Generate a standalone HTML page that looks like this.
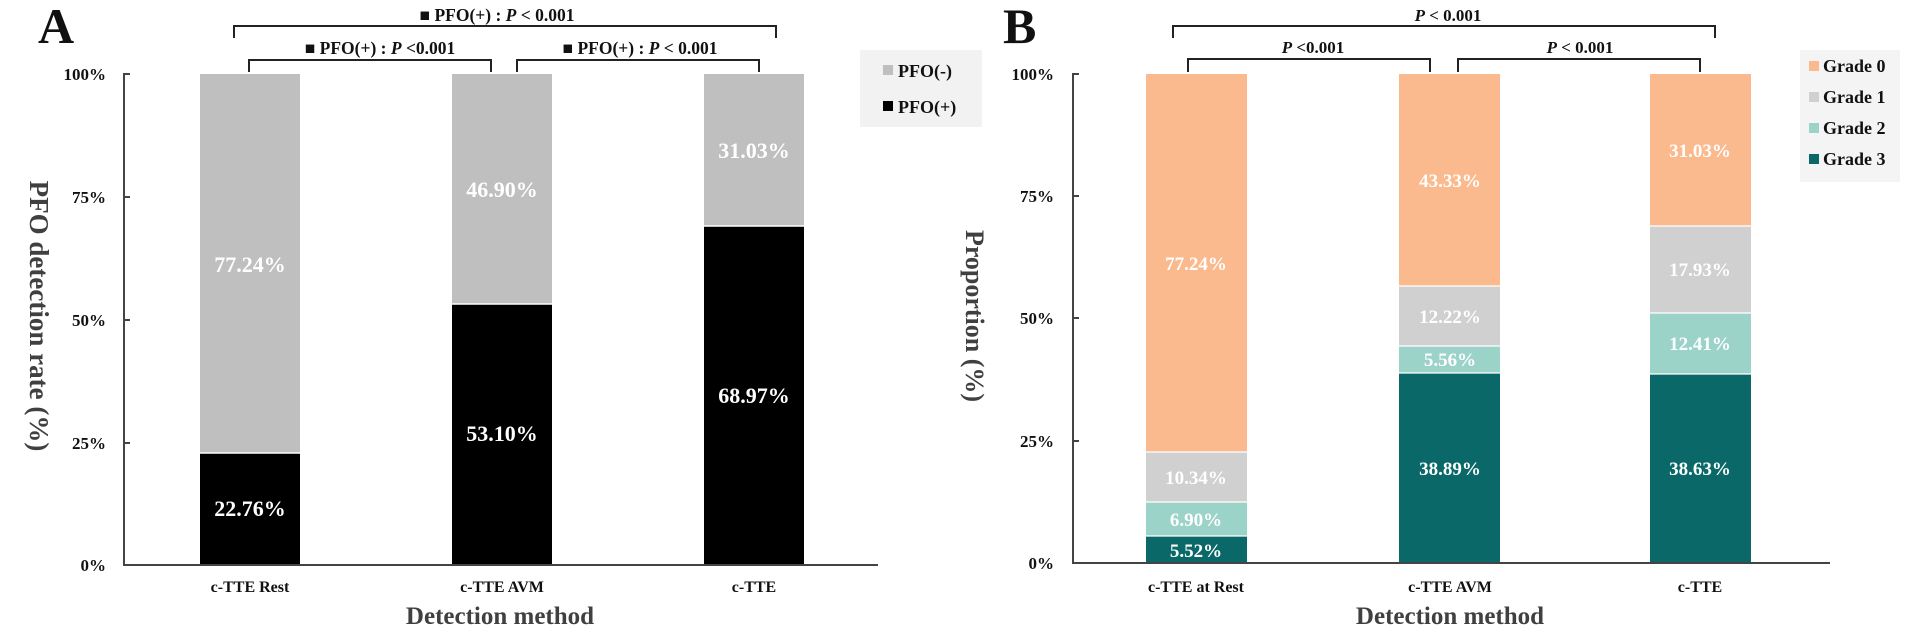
<!DOCTYPE html>
<html><head><meta charset="utf-8"><style>
html,body{margin:0;padding:0;background:#fff;}
svg{display:block;font-family:"Liberation Serif",serif;font-weight:bold;}
</style></head><body>
<svg width="1905" height="634" viewBox="0 0 1905 634" xmlns="http://www.w3.org/2000/svg">
<!-- Panel A -->
<text x="38" y="43" font-size="50" fill="#111">A</text>
<g stroke="#222" stroke-width="2" fill="none">
<path d="M234 38 V26 H776 V38"/>
<path d="M249 72 V60 H491 V72"/>
<path d="M517 72 V60 H759 V72"/>
</g>
<g font-size="17.5" fill="#111" text-anchor="middle">
<text x="497" y="21">■ PFO(+) : <tspan font-style="italic">P</tspan> &lt; 0.001</text>
<text x="380" y="54">■ PFO(+) : <tspan font-style="italic">P</tspan> &lt;0.001</text>
<text x="640" y="54">■ PFO(+) : <tspan font-style="italic">P</tspan> &lt; 0.001</text>
</g>
<rect x="200" y="74" width="100" height="379" fill="#bfbfbf"/>
<rect x="200" y="453" width="100" height="112" fill="#000"/>
<rect x="452" y="74" width="100" height="230" fill="#bfbfbf"/>
<rect x="452" y="304" width="100" height="261" fill="#000"/>
<rect x="704" y="74" width="100" height="152" fill="#bfbfbf"/>
<rect x="704" y="226" width="100" height="339" fill="#000"/>
<g stroke="#fff" stroke-width="1.5"><path d="M200 453 H300 M452 304 H552 M704 226 H804"/></g>
<g font-size="22" fill="#fff" text-anchor="middle">
<text x="250" y="272">77.24%</text><text x="250" y="516">22.76%</text>
<text x="502" y="197">46.90%</text><text x="502" y="441">53.10%</text>
<text x="754" y="158">31.03%</text><text x="754" y="403">68.97%</text>
</g>
<g stroke="#444" stroke-width="2" fill="none"><path d="M130 74 H124 V565 H878"/><path d="M124 197 H130 M124 320 H130 M124 443 H130"/></g>
<g font-size="17" fill="#111" text-anchor="end">
<text x="106" y="80">100%</text><text x="106" y="203">75%</text><text x="106" y="326">50%</text><text x="106" y="449">25%</text><text x="106" y="571">0%</text>
</g>
<text transform="translate(30,316) rotate(90)" font-size="27" fill="#404040" text-anchor="middle">PFO detection rate (%)</text>
<g font-size="16" fill="#111" text-anchor="middle">
<text x="250" y="592">c-TTE Rest</text><text x="502" y="592">c-TTE AVM</text><text x="754" y="592">c-TTE</text>
</g>
<text x="500" y="624" font-size="25" fill="#404040" text-anchor="middle">Detection method</text>
<rect x="860" y="50" width="122" height="77" fill="#f2f2f2"/>
<rect x="883" y="65" width="10" height="10" fill="#bfbfbf"/>
<rect x="883" y="101" width="10" height="10" fill="#000"/>
<g font-size="18" fill="#111"><text x="898" y="77">PFO(-)</text><text x="898" y="113">PFO(+)</text></g>

<!-- Panel B -->
<text x="1003" y="43" font-size="50" fill="#111">B</text>
<g stroke="#222" stroke-width="2" fill="none">
<path d="M1173 38 V26 H1715 V38"/>
<path d="M1188 72 V59 H1430 V72"/>
<path d="M1458 72 V59 H1700 V72"/>
</g>
<g font-size="17" fill="#111" text-anchor="middle">
<text x="1448" y="21"><tspan font-style="italic">P</tspan> &lt; 0.001</text>
<text x="1313" y="53"><tspan font-style="italic">P</tspan> &lt;0.001</text>
<text x="1580" y="53"><tspan font-style="italic">P</tspan> &lt; 0.001</text>
</g>
<g>
<rect x="1146" y="74" width="101" height="378" fill="#fbb98e"/>
<rect x="1146" y="452" width="101" height="50" fill="#d0d0d0"/>
<rect x="1146" y="502" width="101" height="34" fill="#9bd3c9"/>
<rect x="1146" y="536" width="101" height="27" fill="#0a6868"/>
<rect x="1399" y="74" width="101" height="212" fill="#fbb98e"/>
<rect x="1399" y="286" width="101" height="60" fill="#d0d0d0"/>
<rect x="1399" y="346" width="101" height="27" fill="#9bd3c9"/>
<rect x="1399" y="373" width="101" height="190" fill="#0a6868"/>
<rect x="1650" y="74" width="101" height="152" fill="#fbb98e"/>
<rect x="1650" y="226" width="101" height="87" fill="#d0d0d0"/>
<rect x="1650" y="313" width="101" height="61" fill="#9bd3c9"/>
<rect x="1650" y="374" width="101" height="189" fill="#0a6868"/>
</g>
<g stroke="#fff" stroke-width="1.2"><path d="M1146 452 H1247 M1146 502 H1247 M1146 536 H1247 M1399 286 H1500 M1399 346 H1500 M1399 373 H1500 M1650 226 H1751 M1650 313 H1751 M1650 374 H1751"/></g>
<g font-size="19" fill="#fff" text-anchor="middle">
<text x="1196" y="270">77.24%</text><text x="1196" y="484">10.34%</text><text x="1196" y="526">6.90%</text><text x="1196" y="557">5.52%</text>
<text x="1450" y="187">43.33%</text><text x="1450" y="323">12.22%</text><text x="1450" y="366">5.56%</text><text x="1450" y="475">38.89%</text>
<text x="1700" y="157">31.03%</text><text x="1700" y="276">17.93%</text><text x="1700" y="350">12.41%</text><text x="1700" y="475">38.63%</text>
</g>
<g stroke="#444" stroke-width="2" fill="none"><path d="M1079 74 H1073 V563 H1830"/><path d="M1073 196 H1079 M1073 318 H1079 M1073 441 H1079"/></g>
<g font-size="17" fill="#111" text-anchor="end">
<text x="1054" y="80">100%</text><text x="1054" y="202">75%</text><text x="1054" y="324">50%</text><text x="1054" y="447">25%</text><text x="1054" y="569">0%</text>
</g>
<text transform="translate(966,316) rotate(90)" font-size="26" fill="#404040" text-anchor="middle">Proportion (%)</text>
<g font-size="16" fill="#111" text-anchor="middle">
<text x="1196" y="592">c-TTE at Rest</text><text x="1450" y="592">c-TTE AVM</text><text x="1700" y="592">c-TTE</text>
</g>
<text x="1450" y="624" font-size="25" fill="#404040" text-anchor="middle">Detection method</text>
<rect x="1800" y="50" width="100" height="132" fill="#f4f4f4"/>
<rect x="1809" y="61" width="10" height="10" fill="#fbb98e"/>
<rect x="1809" y="92" width="10" height="10" fill="#d0d0d0"/>
<rect x="1809" y="123" width="10" height="10" fill="#9bd3c9"/>
<rect x="1809" y="154" width="10" height="10" fill="#0a6868"/>
<g font-size="18" fill="#111"><text x="1823" y="72">Grade 0</text><text x="1823" y="103">Grade 1</text><text x="1823" y="134">Grade 2</text><text x="1823" y="165">Grade 3</text></g>
</svg>
</body></html>
